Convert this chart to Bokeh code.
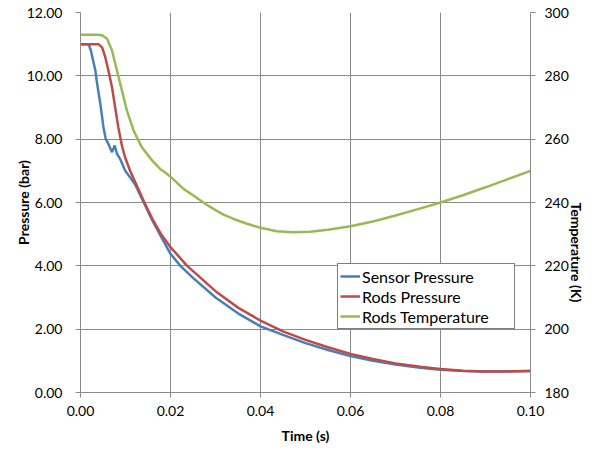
from bokeh.plotting import figure
from bokeh.models import Range1d, LinearAxis, FixedTicker, NumeralTickFormatter, Legend, LegendItem
from bokeh.embed import file_html
from bokeh.resources import INLINE

# Sensor Pressure (bar)
sensor_t = [0.0, 0.0018, 0.0023, 0.0033, 0.0036, 0.0044, 0.0051, 0.0056, 0.0062, 0.0070,
            0.0076, 0.0081, 0.0088, 0.0099, 0.0110, 0.0122, 0.0133, 0.0144, 0.0159, 0.0180,
            0.0200, 0.0222, 0.0250, 0.0300, 0.0350, 0.0400, 0.0450, 0.0500, 0.0550, 0.0600,
            0.0650, 0.0700, 0.0755, 0.0800, 0.0850, 0.0900, 0.0950, 0.1000]
sensor_p = [11.0, 11.0, 10.8, 10.17, 9.85, 9.12, 8.38, 8.01, 7.85, 7.59,
            7.80, 7.54, 7.38, 7.01, 6.80, 6.55, 6.22, 5.90, 5.45, 4.90,
            4.38, 4.00, 3.62, 3.00, 2.50, 2.09, 1.82, 1.56, 1.34, 1.15,
            1.00, 0.88, 0.78, 0.72, 0.68, 0.66, 0.67, 0.68]

# Rods Pressure (bar)
rods_t = [0.0, 0.0040, 0.0048, 0.0055, 0.0062, 0.0070, 0.0077, 0.0084, 0.0092, 0.0099,
          0.0110, 0.0125, 0.0140, 0.0159, 0.0180, 0.0200, 0.0237, 0.0300, 0.0350, 0.0400,
          0.0450, 0.0500, 0.0550, 0.0600, 0.0650, 0.0700, 0.0755, 0.0800, 0.0850, 0.0900,
          0.0950, 0.1000]
rods_p = [11.0, 11.0, 10.9, 10.59, 10.17, 9.64, 9.01, 8.38, 7.80, 7.43,
          7.01, 6.54, 6.06, 5.50, 4.98, 4.59, 4.00, 3.20, 2.68, 2.27,
          1.93, 1.66, 1.43, 1.22, 1.06, 0.92, 0.81, 0.74, 0.69, 0.66,
          0.66, 0.68]

# Rods Temperature (K)
temp_t = [0.0, 0.0040, 0.0048, 0.0059, 0.0070, 0.0081, 0.0092, 0.0103, 0.0118, 0.0136,
          0.0159, 0.0177, 0.0192, 0.0201, 0.0229, 0.0251, 0.0277, 0.0300, 0.0318, 0.0340,
          0.0370, 0.0400, 0.0436, 0.0473, 0.0510, 0.0550, 0.0600, 0.0650, 0.0700, 0.0750,
          0.0800, 0.0850, 0.0900, 0.0950, 0.1000]
temp_k = [293.0, 293.0, 292.8, 291.7, 288.0, 281.7, 275.4, 269.1, 262.7, 257.5,
          253.3, 250.6, 249.1, 248.0, 244.3, 242.2, 239.6, 237.6, 236.2, 234.8,
          233.3, 232.0, 230.9, 230.6, 230.8, 231.4, 232.5, 234.0, 235.9, 237.9,
          240.0, 242.3, 244.8, 247.4, 250.0]

x_ticks = [0.0, 0.02, 0.04, 0.06, 0.08, 0.10]
p_ticks = [0, 2, 4, 6, 8, 10, 12]
t_ticks = [180, 200, 220, 240, 260, 280, 300]

FONT = "Lato"
GRID = "#8a8a8a"

p = figure(width=596, height=454, output_backend="svg", toolbar_location=None,
           x_range=Range1d(0, 0.1), y_range=Range1d(0, 12),
           min_border_left=80, min_border_right=65, min_border_top=12, min_border_bottom=62)
p.outline_line_color = None
p.background_fill_color = "white"
p.border_fill_color = "white"
p.extra_y_ranges = {"temp": Range1d(180, 300)}

ra = LinearAxis(y_range_name="temp", axis_label="Temperature (K)")
p.add_layout(ra, "right")

p.xaxis.axis_label = "Time (s)"
p.yaxis[0].axis_label = "Pressure (bar)"

p.xaxis.ticker = FixedTicker(ticks=x_ticks)
p.xaxis.formatter = NumeralTickFormatter(format="0.00")
p.yaxis[0].ticker = FixedTicker(ticks=p_ticks)
p.yaxis[0].formatter = NumeralTickFormatter(format="0.00")
ra.ticker = FixedTicker(ticks=t_ticks)
ra.formatter = NumeralTickFormatter(format="0")

for ax in [p.xaxis[0], p.yaxis[0], ra]:
    ax.axis_line_color = GRID
    ax.major_tick_line_color = GRID
    ax.major_tick_in = 0
    ax.major_tick_out = 5
    ax.minor_tick_line_color = None
    ax.major_label_text_font = FONT
    ax.major_label_text_font_size = "14px"
    ax.major_label_text_color = "black"
    ax.axis_label_text_font = FONT
    ax.axis_label_text_font_size = "14px"
    ax.axis_label_text_font_style = "bold"
    ax.axis_label_text_color = "black"

p.yaxis[0].major_label_standoff = 13
p.yaxis[0].axis_label_standoff = -8
ra.major_label_standoff = 9
ra.axis_label_standoff = 5
ra.axis_label_orientation = -1.5707963267948966
p.xaxis.major_label_standoff = 8
p.xaxis.axis_label_standoff = 8

p.xgrid.ticker = FixedTicker(ticks=x_ticks)
p.ygrid.ticker = FixedTicker(ticks=p_ticks)
p.grid.grid_line_color = GRID
p.grid.grid_line_width = 1

r1 = p.line(sensor_t, sensor_p, line_color="#4a7ebb", line_width=2.5)
r2 = p.line(rods_t, rods_p, line_color="#be4b48", line_width=2.5)
r3 = p.line(temp_t, temp_k, line_color="#98b954", line_width=2.5, y_range_name="temp")

legend = Legend(items=[LegendItem(label="Sensor Pressure", renderers=[r1]),
                       LegendItem(label="Rods Pressure", renderers=[r2]),
                       LegendItem(label="Rods Temperature", renderers=[r3])],
                location=(257, 63))
legend.border_line_color = "black"
legend.border_line_width = 1.5
legend.background_fill_color = "white"
legend.background_fill_alpha = 1
legend.label_text_font = FONT
legend.label_text_font_size = "16px"
legend.label_text_color = "black"
legend.glyph_width = 20
legend.glyph_height = 20
legend.label_height = 20
legend.label_width = 150
legend.label_standoff = 2
legend.spacing = 0
legend.padding = 2
legend.margin = 0
p.add_layout(legend, "center")

open("out.html", "w").write(file_html(p, INLINE))
